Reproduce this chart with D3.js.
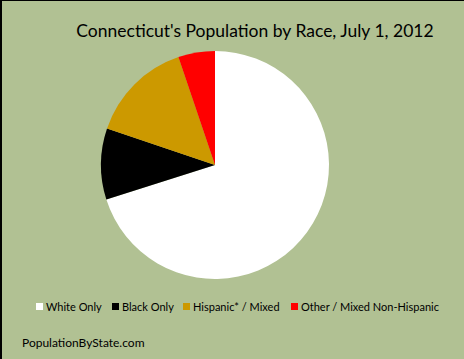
<!DOCTYPE html>
<html><head><meta charset="utf-8">
<script src="https://cdn.jsdelivr.net/npm/d3@7"></script>
<style>html,body{margin:0;padding:0;background:#b1c193;}svg{display:block;}</style>
</head><body>
<script>
const categories = ["White Only", "Black Only", "Hispanic* / Mixed", "Other / Mixed Non-Hispanic"];
const values = [70.1, 10.1, 14.6, 5.2];
const colors = ["#ffffff", "#000000", "#cc9900", "#ff0000"];
const title = "Connecticut's Population by Race, July 1, 2012";
const footer = "PopulationByState.com";

const W = 464, H = 359;
const svg = d3.select("body").append("svg").attr("width", W).attr("height", H);
svg.append("rect").attr("width", W).attr("height", H).attr("fill", "#b1c193");
svg.append("line").attr("x1", 0).attr("y1", 0.5).attr("x2", W).attr("y2", 0.5).attr("stroke", "#000").attr("stroke-width", 1);
svg.append("line").attr("x1", 1).attr("y1", 0).attr("x2", 1).attr("y2", H).attr("stroke", "#000").attr("stroke-width", 2);

svg.append("text").attr("x", 255).attr("y", 37).attr("text-anchor", "middle")
  .attr("font-family", "Lato, 'Open Sans', sans-serif").attr("font-size", 17.5).attr("fill", "#000").text(title);

const pie = d3.pie().sort(null).value(d => d)(values);
const arc = d3.arc().innerRadius(0).outerRadius(114);
const g = svg.append("g").attr("transform", "translate(215,165)");
g.selectAll("path").data(pie).join("path").attr("d", arc).attr("fill", (d, i) => colors[i]);

const legendX = [36, 112, 183, 291];
const lg = svg.append("g");
categories.forEach((c, i) => {
  lg.append("rect").attr("x", legendX[i]).attr("y", 303).attr("width", 7).attr("height", 7).attr("fill", colors[i]);
  lg.append("text").attr("x", legendX[i] + 10).attr("y", 311)
    .attr("font-family", "Lato, 'Open Sans', sans-serif").attr("font-size", 11).attr("fill", "#000").text(c);
});

svg.append("text").attr("x", 22).attr("y", 347)
  .attr("font-family", "Lato, 'Open Sans', sans-serif").attr("font-size", 12).attr("fill", "#000").text(footer);
</script>
</body></html>
